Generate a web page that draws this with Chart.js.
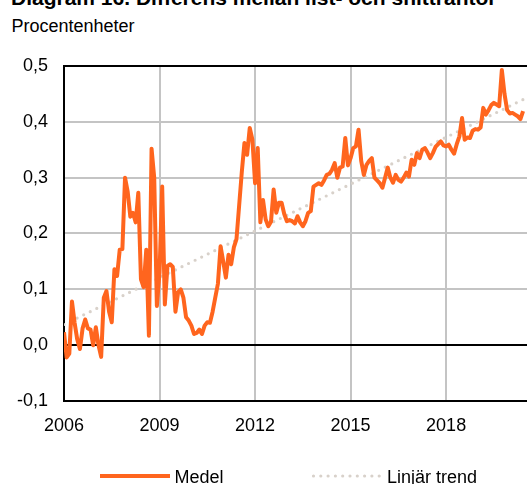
<!DOCTYPE html>
<html lang="sv">
<head>
<meta charset="utf-8">
<title>Differens mellan list- och snitträntor</title>
<script src="https://cdn.jsdelivr.net/npm/chart.js@4.4.1/dist/chart.umd.min.js"></script>
<style>
    html, body { margin: 0; padding: 0; background: #fff; }
    body {
        position: relative; width: 527px; height: 484px; overflow: hidden;
        font-family: Arial, "Liberation Sans", sans-serif; color: #000;
    }
    #title { position: absolute; left: 11px; top: -13px; font-size: 21px; line-height: 21px; font-weight: bold; white-space: nowrap; }
    #unit  { position: absolute; left: 11.5px; top: 16.5px; font-size: 18px; line-height: 18px; }
    #wrap  { position: absolute; left: 0; top: 0; width: 527px; height: 484px; }
    .lg-text { position: absolute; top: 468px; font-size: 18px; line-height: 18px; white-space: nowrap; }
    #legend-svg { position: absolute; left: 0; top: 0; }
</style>
</head>
<body>

<div id="title">Diagram 16. Differens mellan list- och snitträntor</div>
<div id="unit">Procentenheter</div>

<div id="wrap"><canvas id="chart" width="527" height="484"></canvas></div>

<svg id="legend-svg" width="527" height="484">
    <line x1="100" y1="476" x2="170" y2="476" stroke="#ff651e" stroke-width="4"></line>
    <line x1="313.5" y1="476" x2="383" y2="476" stroke="#d8d1ca" stroke-width="3.2"
          stroke-linecap="round" stroke-dasharray="0 7.3"></line>
</svg>
<div class="lg-text" style="left:174.5px">Medel</div>
<div class="lg-text" style="left:387px">Linjär trend</div>

<script>
// ------------------------------------------------------------
// Data (monthly, starting January 2006)
// ------------------------------------------------------------

var START_YEAR = 2006;

var MEDEL = [
    // 2006
    0.023, -0.022, -0.015, 0.078, 0.040, 0.010, -0.007, 0.030, 0.046, 0.030, 0.028, 0.000,
    // 2007
    0.032, 0.000, -0.021, 0.085, 0.097, 0.060, 0.041, 0.136, 0.124, 0.171, 0.172, 0.300,
    // 2008
    0.275, 0.230, 0.237, 0.220, 0.273, 0.118, 0.104, 0.171, 0.017, 0.352, 0.300, 0.070,
    // 2009
    0.130, 0.284, 0.073, 0.142, 0.145, 0.140, 0.060, 0.095, 0.100, 0.085, 0.050, 0.044,
    // 2010
    0.035, 0.020, 0.022, 0.028, 0.020, 0.035, 0.041, 0.040, 0.060, 0.085, 0.110, 0.177,
    // 2011
    0.150, 0.121, 0.162, 0.145, 0.175, 0.190, 0.250, 0.310, 0.362, 0.341, 0.389, 0.368,
    // 2012
    0.290, 0.353, 0.220, 0.260, 0.225, 0.213, 0.221, 0.279, 0.237, 0.255, 0.255, 0.235,
    // 2013
    0.222, 0.224, 0.222, 0.218, 0.231, 0.220, 0.213, 0.222, 0.237, 0.240, 0.284, 0.287,
    // 2014
    0.290, 0.287, 0.295, 0.305, 0.307, 0.314, 0.326, 0.300, 0.318, 0.320, 0.371, 0.322,
    // 2015
    0.335, 0.353, 0.356, 0.386, 0.330, 0.305, 0.323, 0.330, 0.335, 0.300, 0.295, 0.290,
    // 2016
    0.282, 0.300, 0.318, 0.300, 0.291, 0.305, 0.296, 0.293, 0.300, 0.309, 0.302, 0.332,
    // 2017
    0.323, 0.344, 0.335, 0.350, 0.353, 0.345, 0.335, 0.344, 0.355, 0.360, 0.365, 0.358,
    // 2018
    0.356, 0.359, 0.350, 0.343, 0.360, 0.374, 0.407, 0.368, 0.372, 0.371, 0.384, 0.387,
    // 2019
    0.386, 0.390, 0.425, 0.413, 0.421, 0.430, 0.434, 0.431, 0.428, 0.493, 0.450, 0.421,
    // 2020
    0.415, 0.416, 0.413, 0.410, 0.405, 0.419
];

// linear trend: start and end point
var TREND_YEARS  = [2006, 2020.42];
var TREND_VALUES = [0.037, 0.440];

var X_TICKS = [2006, 2009, 2012, 2015, 2018];
var Y_TICKS = [-0.1, 0, 0.1, 0.2, 0.3, 0.4, 0.5];

var X_MIN = 2006;
var X_MAX = 2020.54;

var ORANGE = "#ff651e";
var TREND_COLOR = "#d8d1ca";
var GRID_GREY = "#c4c4c4";

// ------------------------------------------------------------
// Chart
// ------------------------------------------------------------

var monthYears = MEDEL.map(function (_, i) { return START_YEAR + i / 12; });
var trendPoints = TREND_YEARS.map(function (x, i) { return { x: x, y: TREND_VALUES[i] }; });

function isBlackLine(v) {
    return Math.abs(v) < 1e-9 || Math.abs(v - 0.5) < 1e-9 || Math.abs(v + 0.1) < 1e-9;
}

new Chart(document.getElementById("chart").getContext("2d"), {
    type: "line",
    data: {
        labels: monthYears,
        datasets: [
            {
                label: "Medel",
                data: MEDEL,
                borderColor: ORANGE,
                borderWidth: 4,
                borderJoinStyle: "round",
                pointRadius: 0,
                tension: 0,
                fill: false
            },
            {
                label: "Linjär trend",
                data: trendPoints,
                borderColor: TREND_COLOR,
                borderWidth: 3.2,
                borderDash: [0, 7.3],
                borderCapStyle: "round",
                pointRadius: 0,
                fill: false
            }
        ]
    },
    options: {
        responsive: false,
        animation: false,
        events: [],
        layout: { padding: { top: 66, right: 0, bottom: 53, left: 0 } },
        plugins: {
            legend: { display: false },
            tooltip: { enabled: false }
        },
        scales: {
            x: {
                type: "linear",
                min: X_MIN,
                max: X_MAX,
                afterBuildTicks: function (scale) {
                    scale.ticks = X_TICKS.map(function (v) { return { value: v }; });
                },
                afterFit: function (scale) { scale.height = 30; },
                ticks: {
                    autoSkip: false,
                    maxRotation: 0,
                    padding: 14,
                    color: "#000",
                    font: { family: "Arial, 'Liberation Sans', sans-serif", size: 18 },
                    callback: function (v) { return String(v); }
                },
                grid: {
                    drawTicks: false,
                    color: GRID_GREY,
                    lineWidth: 2
                },
                border: { display: true, color: "#000", width: 2 }
            },
            y: {
                min: -0.1,
                max: 0.5,
                afterBuildTicks: function (scale) {
                    scale.ticks = Y_TICKS.map(function (v) { return { value: v }; });
                },
                afterFit: function (scale) { scale.width = 64; },
                ticks: {
                    padding: 16,
                    color: "#000",
                    font: { family: "Arial, 'Liberation Sans', sans-serif", size: 18 },
                    callback: function (v) { return v.toFixed(1).replace(".", ","); }
                },
                grid: {
                    drawTicks: false,
                    color: function (ctx) {
                        return ctx.tick && isBlackLine(ctx.tick.value) ? "#000" : GRID_GREY;
                    },
                    lineWidth: 2
                },
                border: { display: true, color: "#000", width: 2 }
            }
        }
    }
});
</script>
</body>
</html>
